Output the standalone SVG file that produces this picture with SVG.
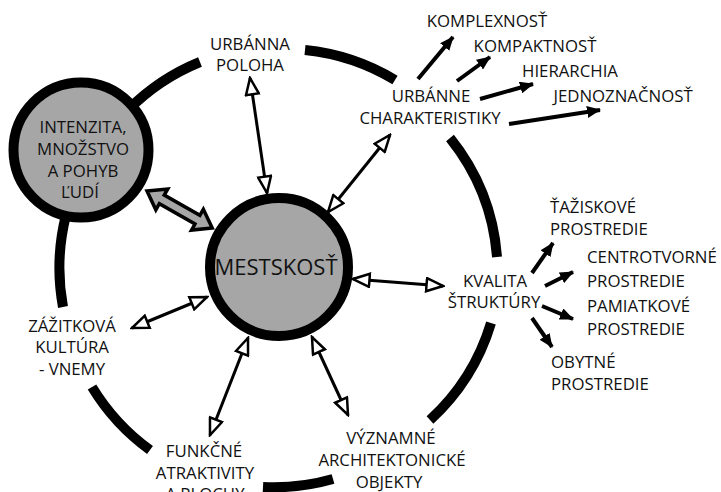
<svg xmlns="http://www.w3.org/2000/svg" width="721" height="492" viewBox="0 0 721 492">
<style>
.ring{fill:none;stroke:#000;stroke-width:10;stroke-linecap:butt}
.node{fill:#a6a6a6;stroke:#000;stroke-width:10}
.lbl{font-family:"Open Sans","Noto Sans",sans-serif;font-size:16.8px;fill:#111}
.c{text-anchor:middle}
.big{font-size:22px}
.dbl{stroke:#000;stroke-width:3;fill:none;marker-start:url(#open);marker-end:url(#open)}
.one{stroke:#000;stroke-width:4;fill:none;marker-end:url(#solid)}
</style>
<defs>
<marker id="open" markerUnits="userSpaceOnUse" markerWidth="20" markerHeight="16" refX="18" refY="8" orient="auto-start-reverse" viewBox="0 0 20 16">
<path d="M1.5,1.5 L18,8 L1.5,14.5 Z" fill="#fff" stroke="#000" stroke-width="2.5" stroke-linejoin="miter"/>
</marker>
<marker id="solid" markerUnits="userSpaceOnUse" markerWidth="14" markerHeight="12" refX="13" refY="6" orient="auto" viewBox="0 0 14 12">
<path d="M0,0 L14,6 L0,12 Z" fill="#000"/>
</marker>
</defs>
<g id="ring">
<path class="ring" d="M128,110 A216,216 0 0 1 200,62"/>
<path class="ring" d="M305,50 A216,216 0 0 1 395,80"/>
<path class="ring" d="M450,138 A216,216 0 0 1 497,257"/>
<path class="ring" d="M491,323 A216,216 0 0 1 430,420"/>
<path class="ring" d="M333,479 A216,216 0 0 1 263,487"/>
<path class="ring" d="M150,450 A216,216 0 0 1 92,387"/>
<path class="ring" d="M63,307 A216,216 0 0 1 66,215"/>
</g>
<g id="connectors">
<line class="dbl" x1="250" y1="78" x2="267" y2="193"/>
<line class="dbl" x1="390" y1="135" x2="328" y2="212"/>
<line class="dbl" x1="353" y1="279" x2="443" y2="286"/>
<line class="dbl" x1="207" y1="297" x2="132" y2="328"/>
<line class="dbl" x1="248" y1="338" x2="210" y2="435"/>
<line class="dbl" x1="312" y1="337" x2="348" y2="415"/>
<line class="one" x1="418" y1="79" x2="453" y2="37"/>
<line class="one" x1="457" y1="81" x2="490" y2="57"/>
<line class="one" x1="480" y1="99" x2="533" y2="84"/>
<line class="one" x1="509" y1="124" x2="600" y2="110"/>
<line class="one" x1="532" y1="273" x2="553" y2="243"/>
<line class="one" x1="545" y1="286" x2="573" y2="272"/>
<line class="one" x1="542" y1="306" x2="573" y2="319"/>
<line class="one" x1="532" y1="318" x2="552" y2="347"/>
<polygon transform="translate(147,191) rotate(29.6)" points="0,0 17,-12 17,-5 58,-5 58,-12 75,0 58,12 58,5 17,5 17,12" fill="#a6a6a6" stroke="#000" stroke-width="3.5" stroke-linejoin="miter"/>
</g>
<g id="intenzita">
<circle class="node" cx="81" cy="150" r="67.5"/>
<text class="lbl c" x="83" y="133">INTENZITA,</text>
<text class="lbl c" x="83" y="155">MNOŽSTVO</text>
<text class="lbl c" x="83" y="177">A POHYB</text>
<text class="lbl c" x="80" y="198">ĽUDÍ</text>
</g>
<g id="mestskost">
<circle class="node" cx="279" cy="267" r="69"/>
<text class="lbl c big" x="276" y="275">MESTSKOSŤ</text>
</g>
<g id="urbanna-poloha">
<text class="lbl c" x="250" y="50">URBÁNNA</text>
<text class="lbl c" x="250" y="71">POLOHA</text>
</g>
<g id="urbanne-charakteristiky">
<text class="lbl c" x="431" y="102">URBÁNNE</text>
<text class="lbl c" x="430" y="124">CHARAKTERISTIKY</text>
</g>
<g id="komplexnost"><text class="lbl c" x="487" y="27">KOMPLEXNOSŤ</text></g>
<g id="kompaktnost"><text class="lbl c" x="535" y="52">KOMPAKTNOSŤ</text></g>
<g id="hierarchia"><text class="lbl c" x="570" y="77">HIERARCHIA</text></g>
<g id="jednoznacnost"><text class="lbl c" x="623" y="102">JEDNOZNAČNOSŤ</text></g>
<g id="kvalita">
<text class="lbl c" x="495" y="287">KVALITA</text>
<text class="lbl c" x="494" y="308">ŠTRUKTÚRY</text>
</g>
<g id="taziskove">
<text class="lbl" x="550" y="213">ŤAŽISKOVÉ</text>
<text class="lbl" x="550" y="235">PROSTREDIE</text>
</g>
<g id="centrotvorne">
<text class="lbl" x="587" y="263">CENTROTVORNÉ</text>
<text class="lbl" x="587" y="287">PROSTREDIE</text>
</g>
<g id="pamiatkove">
<text class="lbl" x="587" y="312">PAMIATKOVÉ</text>
<text class="lbl" x="587" y="335">PROSTREDIE</text>
</g>
<g id="obytne">
<text class="lbl" x="551" y="368">OBYTNÉ</text>
<text class="lbl" x="551" y="390">PROSTREDIE</text>
</g>
<g id="zazitkova">
<text class="lbl c" x="72" y="332">ZÁŽITKOVÁ</text>
<text class="lbl c" x="72" y="353">KULTÚRA</text>
<text class="lbl c" x="72" y="375">- VNEMY</text>
</g>
<g id="funkcne">
<text class="lbl c" x="204" y="457">FUNKČNÉ</text>
<text class="lbl c" x="205" y="479">ATRAKTIVITY</text>
<text class="lbl c" x="205" y="500">A PLOCHY</text>
</g>
<g id="vyznamne">
<text class="lbl c" x="391" y="444">VÝZNAMNÉ</text>
<text class="lbl c" x="392" y="466">ARCHITEKTONICKÉ</text>
<text class="lbl c" x="389" y="488">OBJEKTY</text>
</g>
</svg>
